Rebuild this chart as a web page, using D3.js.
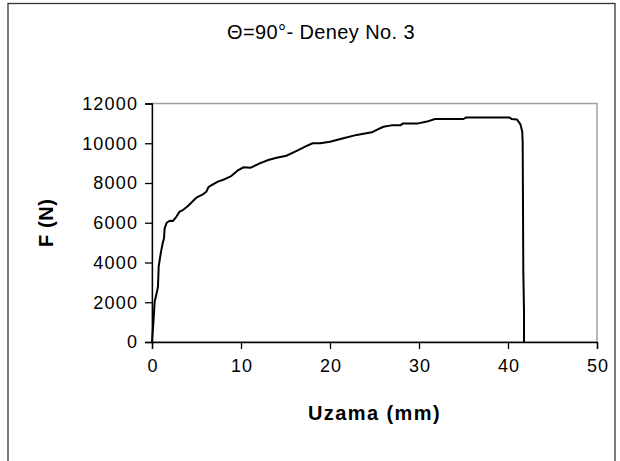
<!DOCTYPE html>
<html>
<head>
<meta charset="utf-8">
<script src="https://cdn.jsdelivr.net/npm/d3@7"></script>
<style>
  html, body { margin: 0; padding: 0; background: #fff; }
  svg { display: block; }
  text { font-family: "Liberation Sans", Arial, sans-serif; fill: #000; }
</style>
</head>
<body>
<svg id="chart" width="620" height="461"></svg>
<script>
// Force–elongation record, test no. 3 at 90°
const elongation = [0, 0.15, 0.3, 0.6, 0.67, 0.75, 0.98, 1.2, 1.35, 1.42, 1.65, 1.99, 2.36, 2.73, 3.1, 3.48,
  4.04, 4.98, 5.73, 6.1, 6.37, 6.85, 7.4, 8.17, 8.9, 9.6, 10.26, 11.1, 12.1, 13.07, 14.0, 15.1, 16.26,
  17.2, 18.05, 18.9, 20.0, 21.5, 23.0, 24.7, 25.25, 26.0, 26.9, 27.9, 28.2, 29.9, 30.9, 31.8, 35.0,
  35.3, 40.2, 40.4, 41.0, 41.4, 41.6, 41.65, 41.72, 41.8, 41.8];
const force = [0, 940, 2030, 2620, 2780, 3790, 4460, 4970, 5220, 5720, 6000, 6100, 6090, 6300, 6560, 6640,
  6840, 7260, 7430, 7560, 7810, 7930, 8070, 8190, 8350, 8620, 8790, 8770, 8990, 9160, 9270, 9370, 9620,
  9830, 10000, 10000, 10080, 10250, 10420, 10550, 10670, 10830, 10900, 10900, 11000, 11000, 11090, 11220, 11220,
  11300, 11300, 11220, 11200, 10950, 10580, 10000, 3540, 1520, 0];
const xTicks = [0, 10, 20, 30, 40, 50];
const yTicks = [0, 2000, 4000, 6000, 8000, 10000, 12000];
const titleText = "Θ=90°- Deney No. 3";
const xTitle = "Uzama (mm)";
const yTitle = "F (N)";

const svg = d3.select("#chart");
const plotLeft = 152, plotRight = 597, plotTop = 103.5, plotBottom = 342;

// outer chart frame
svg.append("rect").attr("x", 8).attr("y", 3.5).attr("width", 607).attr("height", 480)
  .attr("fill", "none").attr("stroke", "#333").attr("stroke-width", 1.3);

const x = d3.scaleLinear().domain([0, 50]).range([plotLeft, plotRight]);
const y = d3.scaleLinear().domain([0, 12000]).range([plotBottom, plotTop]);

// plot area border
svg.append("rect").attr("x", plotLeft).attr("y", plotTop)
  .attr("width", plotRight - plotLeft).attr("height", plotBottom - plotTop)
  .attr("fill", "none").attr("stroke", "#a0a0a0").attr("stroke-width", 1.5);

const xAxis = svg.append("g").attr("transform", `translate(0,${plotBottom})`)
  .call(d3.axisBottom(x).tickValues(xTicks).tickSize(7).tickPadding(10).tickFormat(d3.format("d")));
const yAxis = svg.append("g").attr("transform", `translate(${plotLeft},0)`)
  .call(d3.axisLeft(y).tickValues(yTicks).tickSize(7).tickPadding(8).tickFormat(d3.format("d")));

[xAxis, yAxis].forEach(g => {
  g.select(".domain").attr("stroke", "#000").attr("stroke-width", 1.3);
  g.selectAll(".tick line").attr("stroke", "#000").attr("stroke-width", 1.3);
  g.selectAll(".tick text").attr("font-size", 18).attr("letter-spacing", "1.2px")
    .attr("font-family", "Liberation Sans, Arial, sans-serif").attr("fill", "#000");
});
// letter-spacing leaves a trailing gap; recentre x labels
xAxis.selectAll(".tick text").attr("dx", "0.6px");
yAxis.selectAll(".tick text").attr("dx", "1.2px");

// curve
const pts = elongation.map((e, i) => [e, force[i]]);
svg.append("path").datum(pts)
  .attr("fill", "none").attr("stroke", "#000").attr("stroke-width", 2).attr("stroke-linejoin", "round")
  .attr("d", d3.line().x(d => x(d[0])).y(d => y(d[1])));

// titles
svg.append("text").attr("x", 321).attr("y", 39).attr("text-anchor", "middle")
  .attr("font-size", 20).attr("letter-spacing", "0.4px").text(titleText);
svg.append("text").attr("x", (plotLeft + plotRight) / 2).attr("y", 420).attr("text-anchor", "middle")
  .attr("font-size", 20).attr("font-weight", "bold").attr("letter-spacing", "1.4px").text(xTitle);
svg.append("text").attr("transform", `translate(53,${(plotTop + plotBottom) / 2}) rotate(-90)`)
  .attr("text-anchor", "middle").attr("font-size", 20).attr("font-weight", "bold")
  .attr("letter-spacing", "0.6px").text(yTitle);
</script>
</body>
</html>
